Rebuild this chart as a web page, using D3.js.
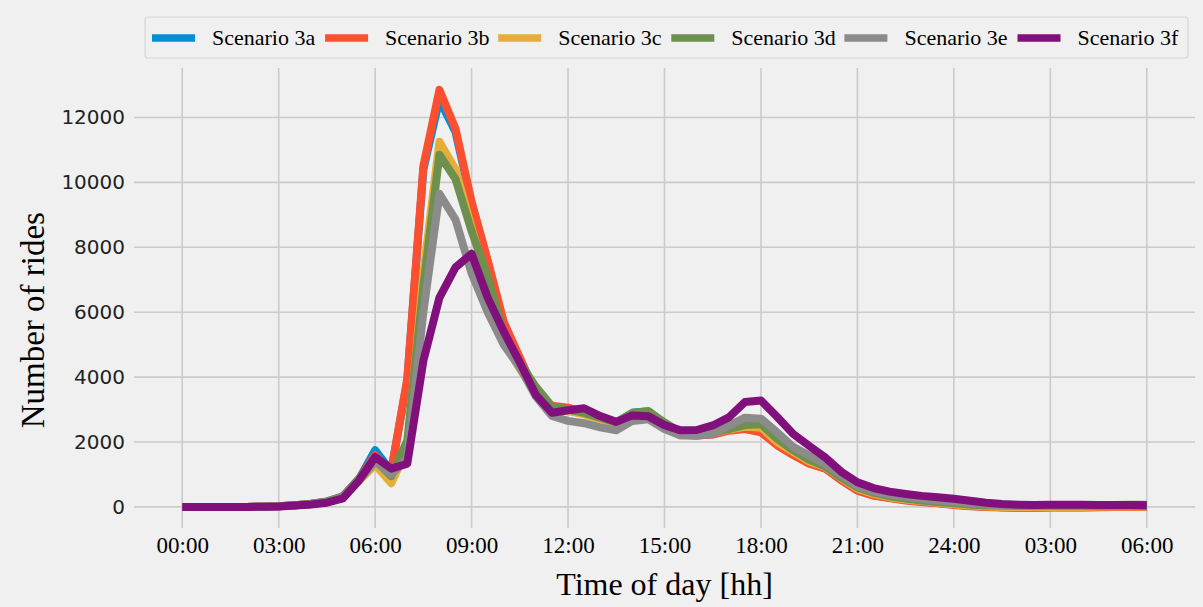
<!DOCTYPE html>
<html>
<head>
<meta charset="utf-8">
<script src="https://d3js.org/d3.v7.min.js"></script>
<style>
  html, body { margin: 0; padding: 0; background: #f0f0f0; }
  svg { display: block; }
</style>
</head>
<body>
<div id="chart"></div>
<script>
// Half-hourly ride counts from 00:00 to 06:00 the following morning
const hours = d3.range(0, 30.01, 0.5);

const scenarioNames = ["Scenario 3a", "Scenario 3b", "Scenario 3c", "Scenario 3d", "Scenario 3e", "Scenario 3f"];
const scenarioColors = ["#008fd5", "#fc4f30", "#e5ae38", "#6d904f", "#8b8b8b", "#810f7c"];

const scenario3a = [0,0,0,0,0,5,20,50,90,160,320,860,1750,1100,3900,10400,12550,11550,9350,7550,5650,4550,3550,3050,3050,2900,2750,2600,2900,2950,2550,2230,2200,2240,2360,2430,2400,1950,1620,1350,1190,830,510,360,280,210,160,120,70,30,10,-10,-20,-20,-10,-10,-10,0,0,0,0];
const scenario3b = [0,0,0,0,0,5,20,50,90,160,320,850,1600,1100,3950,10500,12850,11650,9400,7600,5700,4600,3500,3120,3060,2900,2750,2600,2850,2900,2500,2220,2200,2230,2350,2400,2300,1900,1600,1330,1180,820,500,350,270,200,150,110,60,20,0,-20,-30,-30,-20,-20,-20,-10,0,0,0];
const scenario3c = [0,0,0,0,0,5,20,50,90,160,310,800,1300,730,1800,7200,11250,10400,8600,6900,5100,4250,3550,3000,2950,2850,2700,2550,2850,2850,2500,2250,2220,2280,2380,2470,2450,2000,1700,1400,1230,880,560,400,300,230,180,130,80,40,20,0,-10,-10,0,0,0,10,10,10,10];
const scenario3d = [0,0,0,0,0,5,20,50,95,170,330,880,1450,950,2050,6800,10850,10100,8500,7100,5350,4450,3700,3100,3000,2900,2750,2600,2900,2950,2600,2300,2250,2300,2400,2520,2550,2100,1750,1450,1250,900,600,440,330,260,200,150,110,70,50,40,40,40,40,50,50,60,60,70,70];
const scenario3e = [0,0,0,0,0,5,20,45,85,150,300,820,1400,1000,1500,6000,9650,8850,7200,6000,5000,4300,3400,2800,2650,2580,2450,2360,2650,2700,2400,2200,2200,2250,2500,2750,2720,2300,1850,1580,1320,980,640,480,380,310,250,200,160,110,80,50,30,30,30,30,30,30,30,30,30];
const scenario3f = [0,0,0,0,0,5,15,40,75,130,260,820,1540,1180,1330,4500,6450,7380,7800,6450,5400,4450,3450,2900,2980,3040,2800,2620,2820,2790,2520,2360,2370,2510,2760,3230,3280,2780,2250,1880,1520,1080,760,580,470,400,340,300,250,190,130,90,70,60,70,70,65,60,60,55,50];

const seriesValues = [scenario3a, scenario3b, scenario3c, scenario3d, scenario3e, scenario3f];

const xTickHours = [0, 3, 6, 9, 12, 15, 18, 21, 24, 27, 30];
const xTickLabels = ["00:00", "03:00", "06:00", "09:00", "12:00", "15:00", "18:00", "21:00", "24:00", "03:00", "06:00"];
const yTickValues = [0, 2000, 4000, 6000, 8000, 10000, 12000];

const W = 1203, H = 607;
const plot = { left: 134, right: 1195, top: 68, bottom: 528 };

const svg = d3.select("#chart").append("svg")
  .attr("width", W).attr("height", H);

svg.append("rect").attr("width", W).attr("height", H).attr("fill", "#f0f0f0");

const x = d3.scaleLinear().domain([-1.5, 31.5]).range([plot.left, plot.right]);
const y = d3.scaleLinear().domain([-650, 13525]).range([plot.bottom, plot.top]);

// Grid
const grid = svg.append("g").attr("stroke", "#cbcbcb").attr("stroke-width", 1.6);
grid.selectAll("line.v").data(xTickHours).join("line")
  .attr("x1", d => x(d)).attr("x2", d => x(d))
  .attr("y1", plot.top).attr("y2", plot.bottom);
grid.selectAll("line.h").data(yTickValues).join("line")
  .attr("x1", plot.left).attr("x2", plot.right)
  .attr("y1", d => y(d)).attr("y2", d => y(d));

// Axes (tick text only, fivethirtyeight look)
const xAxis = d3.axisBottom(x).tickValues(xTickHours)
  .tickFormat((d, i) => xTickLabels[i]).tickSize(0).tickPadding(9);
const gx = svg.append("g").attr("transform", `translate(0,${plot.bottom})`).call(xAxis);
gx.select(".domain").remove();
gx.selectAll("text")
  .attr("font-family", "'Liberation Serif', 'DejaVu Serif', serif")
  .attr("font-size", 23).attr("fill", "#000");

const yAxis = d3.axisLeft(y).tickValues(yTickValues).tickSize(0).tickPadding(9)
  .tickFormat(d3.format("d"));
const gy = svg.append("g").attr("transform", `translate(${plot.left},0)`).call(yAxis);
gy.select(".domain").remove();
gy.selectAll("text")
  .attr("font-family", "'DejaVu Sans', sans-serif")
  .attr("font-size", 20).attr("fill", "#222");

// Axis titles
svg.append("text")
  .attr("x", (x(0) + x(30)) / 2).attr("y", 595)
  .attr("text-anchor", "middle")
  .attr("font-family", "'Liberation Serif', 'DejaVu Serif', serif")
  .attr("font-size", 32).attr("fill", "#000")
  .text("Time of day [hh]");

svg.append("text")
  .attr("transform", `translate(44,${(y(0) + y(12000)) / 2 + 8}) rotate(-90)`)
  .attr("text-anchor", "middle")
  .attr("font-family", "'Liberation Serif', 'DejaVu Serif', serif")
  .attr("font-size", 33).attr("fill", "#000")
  .text("Number of rides");

// Series lines
const line = d3.line().x((d, i) => x(hours[i])).y(d => y(d));
svg.append("g").selectAll("path").data(seriesValues).join("path")
  .attr("d", line)
  .attr("fill", "none")
  .attr("stroke", (d, i) => scenarioColors[i])
  .attr("stroke-width", 8)
  .attr("stroke-linejoin", "round")
  .attr("stroke-linecap", "butt");

// Legend
const legend = svg.append("g");
legend.append("rect")
  .attr("x", 145).attr("y", 17).attr("width", 1043).attr("height", 41)
  .attr("rx", 3).attr("fill", "#f0f0f0").attr("stroke", "#d6d6d6").attr("stroke-width", 1.2);
const item = legend.selectAll("g.item").data(scenarioNames).join("g")
  .attr("transform", (d, i) => `translate(${152 + i * 173.1},38)`);
item.append("line")
  .attr("x1", 0).attr("x2", 43).attr("y1", 0).attr("y2", 0)
  .attr("stroke", (d, i) => scenarioColors[i]).attr("stroke-width", 7.5);
item.append("text")
  .attr("x", 60).attr("y", 7)
  .attr("font-family", "'Liberation Serif', 'DejaVu Serif', serif")
  .attr("font-size", 22).attr("fill", "#000")
  .text(d => d);
</script>
</body>
</html>
